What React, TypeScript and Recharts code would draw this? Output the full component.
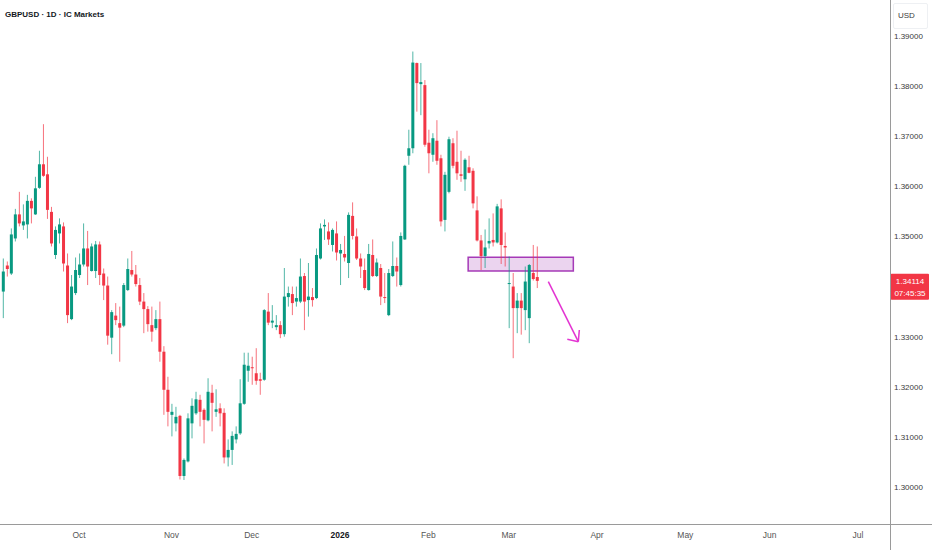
import React from 'react';
import { ComposedChart, Bar, XAxis, YAxis, ReferenceArea, ReferenceLine } from 'recharts';

// Daily GBPUSD candles (bar index = position in arrays)
const opens = [1.3390,1.3442,1.3426,1.3496,1.3544,1.3522,1.3524,1.3571,1.3544,1.3597,1.3644,1.3624,1.3549,1.3463,1.3506,1.3520,1.3442,1.3335,1.3387,1.3423,1.3444,1.3476,1.3431,1.3431,1.3484,1.3426,1.3402,1.3298,1.3342,1.3327,1.3322,1.3393,1.3433,1.3424,1.3403,1.3370,1.3355,1.3323,1.3317,1.3335,1.3270,1.3194,1.3144,1.3127,1.3142,1.3022,1.3051,1.3127,1.3147,1.3174,1.3154,1.3133,1.3188,1.3150,1.3157,1.3148,1.3059,1.3074,1.3095,1.3107,1.3166,1.3232,1.3239,1.3227,1.3215,1.3214,1.3350,1.3328,1.3319,1.3323,1.3305,1.3379,1.3385,1.3370,1.3370,1.3421,1.3373,1.3379,1.3377,1.3456,1.3520,1.3510,1.3483,1.3506,1.3466,1.3465,1.3447,1.3541,1.3500,1.3456,1.3433,1.3393,1.3463,1.3421,1.3437,1.3379,1.3343,1.3421,1.3441,1.3403,1.3494,1.3661,1.3676,1.3846,1.3804,1.3802,1.3687,1.3663,1.3691,1.3656,1.3533,1.3589,1.3686,1.3649,1.3624,1.3614,1.3638,1.3631,1.3552,1.3492,1.3461,1.3486,1.3493,1.3488,1.3556,1.3481,1.3405,1.3400,1.3357,1.3372,1.3353,1.3337,1.3427,1.3419];
const highs = [1.3456,1.3450,1.3516,1.3555,1.3589,1.3564,1.3583,1.3576,1.3619,1.3671,1.3724,1.3659,1.3559,1.3520,1.3536,1.3528,1.3466,1.3423,1.3458,1.3466,1.3526,1.3511,1.3486,1.3491,1.3490,1.3436,1.3420,1.3353,1.3367,1.3360,1.3407,1.3456,1.3471,1.3443,1.3417,1.3387,1.3361,1.3360,1.3353,1.3370,1.3281,1.3220,1.3166,1.3160,1.3144,1.3057,1.3147,1.3177,1.3190,1.3184,1.3157,1.3217,1.3204,1.3195,1.3167,1.3157,1.3095,1.3111,1.3121,1.3215,1.3268,1.3268,1.3260,1.3277,1.3228,1.3355,1.3387,1.3363,1.3343,1.3331,1.3437,1.3400,1.3400,1.3400,1.3456,1.3427,1.3447,1.3397,1.3476,1.3526,1.3534,1.3528,1.3516,1.3530,1.3485,1.3501,1.3548,1.3568,1.3516,1.3466,1.3456,1.3485,1.3494,1.3456,1.3445,1.3427,1.3435,1.3490,1.3458,1.3508,1.3643,1.3713,1.3869,1.3847,1.3846,1.3812,1.3713,1.3706,1.3732,1.3663,1.3629,1.3699,1.3696,1.3711,1.3671,1.3656,1.3661,1.3636,1.3580,1.3503,1.3514,1.3536,1.3546,1.3565,1.3574,1.3508,1.3460,1.3427,1.3387,1.3387,1.3440,1.3445,1.3483,1.3480];
const lows = [1.3337,1.3420,1.3423,1.3490,1.3520,1.3513,1.3496,1.3526,1.3543,1.3595,1.3619,1.3535,1.3480,1.3455,1.3486,1.3430,1.3327,1.3333,1.3383,1.3417,1.3440,1.3403,1.3430,1.3417,1.3403,1.3373,1.3284,1.3265,1.3323,1.3250,1.3319,1.3391,1.3420,1.3400,1.3363,1.3307,1.3310,1.3290,1.3313,1.3250,1.3144,1.3121,1.3101,1.3111,1.3015,1.3014,1.3049,1.3097,1.3144,1.3121,1.3087,1.3131,1.3111,1.3140,1.3121,1.3047,1.3041,1.3044,1.3087,1.3104,1.3164,1.3210,1.3204,1.3204,1.3184,1.3212,1.3323,1.3317,1.3313,1.3297,1.3300,1.3360,1.3343,1.3360,1.3367,1.3313,1.3340,1.3360,1.3375,1.3454,1.3493,1.3483,1.3470,1.3452,1.3403,1.3450,1.3417,1.3494,1.3453,1.3417,1.3393,1.3392,1.3419,1.3419,1.3363,1.3367,1.3341,1.3419,1.3400,1.3400,1.3493,1.3643,1.3666,1.3749,1.3742,1.3679,1.3626,1.3649,1.3643,1.3520,1.3510,1.3586,1.3636,1.3613,1.3609,1.3591,1.3626,1.3556,1.3490,1.3433,1.3437,1.3476,1.3480,1.3486,1.3445,1.3440,1.3317,1.3257,1.3307,1.3304,1.3313,1.3287,1.3412,1.3397];
const closes = [1.3430,1.3435,1.3504,1.3544,1.3526,1.3530,1.3571,1.3556,1.3596,1.3644,1.3621,1.3553,1.3486,1.3513,1.3524,1.3446,1.3343,1.3400,1.3433,1.3444,1.3476,1.3440,1.3480,1.3484,1.3423,1.3402,1.3302,1.3349,1.3333,1.3318,1.3403,1.3435,1.3424,1.3405,1.3370,1.3355,1.3325,1.3310,1.3335,1.3270,1.3194,1.3150,1.3150,1.3140,1.3022,1.3054,1.3137,1.3162,1.3175,1.3150,1.3134,1.3190,1.3168,1.3155,1.3147,1.3059,1.3074,1.3102,1.3106,1.3167,1.3244,1.3242,1.3237,1.3212,1.3212,1.3353,1.3328,1.3332,1.3323,1.3305,1.3380,1.3387,1.3367,1.3377,1.3420,1.3370,1.3380,1.3373,1.3463,1.3516,1.3523,1.3494,1.3513,1.3468,1.3473,1.3458,1.3543,1.3501,1.3456,1.3440,1.3397,1.3465,1.3421,1.3448,1.3380,1.3377,1.3427,1.3441,1.3430,1.3501,1.3641,1.3676,1.3847,1.3806,1.3808,1.3683,1.3666,1.3696,1.3651,1.3530,1.3623,1.3694,1.3641,1.3626,1.3621,1.3653,1.3627,1.3566,1.3492,1.3461,1.3478,1.3491,1.3488,1.3560,1.3483,1.3478,1.3407,1.3357,1.3372,1.3357,1.3410,1.3443,1.3415,1.34114];

// Time axis: bar index of month starts and labels
const monthIdx = [19, 42, 62, 84, 106, 126, 148, 170, 191, 213];
const monthLabels = ['Oct', 'Nov', 'Dec', '2026', 'Feb', 'Mar', 'Apr', 'May', 'Jun', 'Jul'];

// Price axis ticks
const priceTicks = [1.30, 1.31, 1.32, 1.33, 1.35, 1.36, 1.37, 1.38, 1.39];
const countdown = '07:45:35';

// Drawn annotations (bar index, price)
const zoneX = [115.9, 142.1];
const zonePrice = [1.34312, 1.34584];
const arrowStart = { x: 135.87, y: 1.34097 };
const arrowTip = { x: 143.34, y: 1.329 };
const arrowWingA = { x: 140.6, y: 1.32947 };
const arrowWingB = { x: 143.59, y: 1.33133 };

const UP = '#089981';
const DOWN = '#f23645';
const ARROW = '#e335d2';
const FONT = '"Liberation Sans", Arial, sans-serif';

const data = opens.map((o, i) => ({
  i,
  o,
  h: highs[i],
  l: lows[i],
  c: closes[i],
  range: [lows[i], highs[i]],
}));
const lastClose = closes[closes.length - 1];
const yTicks = [...priceTicks, lastClose];

const Candle = (props: any) => {
  const { x, y, width, height, payload } = props;
  if (x == null || y == null || !payload) return null;
  const top = Math.min(y, y + height);
  const h = Math.abs(height);
  const span = payload.h - payload.l;
  const toY = (p: number) => (span === 0 ? top : top + ((payload.h - p) / span) * h);
  const up = payload.c >= payload.o;
  const color = up ? UP : DOWN;
  const bTop = toY(Math.max(payload.o, payload.c));
  const bBot = toY(Math.min(payload.o, payload.c));
  const cx = x + width / 2;
  return (
    <g>
      <line x1={cx} x2={cx} y1={top} y2={top + h} stroke={color} strokeWidth={1} strokeOpacity={0.7} />
      <rect x={x} y={bTop} width={width} height={Math.max(1, bBot - bTop)} fill={color} />
    </g>
  );
};

const PriceTick = (props: any) => {
  const { x, y, payload } = props;
  const v = payload.value;
  if (Math.abs(v - lastClose) < 1e-9) {
    return (
      <g>
        <rect x={x - 3.3} y={y - 7} width={38.3} height={26} fill={DOWN} rx={1} />
        <text x={x + 16} y={y} dy="0.355em" textAnchor="middle" fill="#fff" fontSize={8} fontFamily={FONT}>
          {v.toFixed(5)}
        </text>
        <text x={x + 16} y={y + 12} dy="0.355em" textAnchor="middle" fill="#fff" fontSize={8} fontFamily={FONT}>
          {countdown}
        </text>
      </g>
    );
  }
  return (
    <text x={x} y={y} dy="0.355em" textAnchor="start" fill="#3b3b3b" fontSize={8} fontFamily={FONT}>
      {v.toFixed(5)}
    </text>
  );
};

const TimeTick = (props: any) => {
  const { x, y, payload } = props;
  const k = monthIdx.indexOf(payload.value);
  const label = k >= 0 ? monthLabels[k] : '';
  const bold = label === '2026';
  return (
    <text
      x={x}
      y={y}
      dy="0.71em"
      textAnchor="middle"
      fill={bold ? '#131722' : '#555'}
      fontSize={8.5}
      fontWeight={bold ? 700 : 400}
      fontFamily={FONT}
    >
      {label}
    </text>
  );
};

export default function App() {
  return (
    <div style={{ position: 'absolute', left: 0, top: 0, width: 932, height: 550, background: '#fff', overflow: 'hidden' }}>
      <ComposedChart width={932} height={550} data={data} margin={{ top: 0, right: 0, bottom: 0, left: 0 }}>
        <XAxis
          dataKey="i"
          type="number"
          domain={[-0.7, 220.97]}
          allowDataOverflow
          ticks={monthIdx}
          interval={0}
          tick={<TimeTick />}
          axisLine={false}
          tickLine={false}
          tickSize={0}
          tickMargin={8}
          height={26}
        />
        <YAxis
          orientation="right"
          type="number"
          domain={[1.292616, 1.397184]}
          allowDataOverflow
          ticks={yTicks}
          interval={0}
          tick={<PriceTick />}
          axisLine={false}
          tickLine={false}
          tickSize={0}
          tickMargin={4}
          width={42}
        />
        <Bar dataKey="range" barSize={3} shape={<Candle />} isAnimationActive={false} />
        <ReferenceArea
          x1={zoneX[0]}
          x2={zoneX[1]}
          y1={zonePrice[0]}
          y2={zonePrice[1]}
          fill="#9c27b0"
          fillOpacity={0.2}
          stroke="#9c27b0"
          strokeWidth={1.5}
          strokeOpacity={0.9}
        />
        <ReferenceLine segment={[arrowStart, arrowTip]} stroke={ARROW} strokeWidth={1.5} />
        <ReferenceLine segment={[arrowTip, arrowWingA]} stroke={ARROW} strokeWidth={1.5} />
        <ReferenceLine segment={[arrowTip, arrowWingB]} stroke={ARROW} strokeWidth={1.5} />
      </ComposedChart>
      <div style={{ position: 'absolute', left: 0, top: 524, width: 932, height: 1, background: '#9a9a9a' }} />
      <div style={{ position: 'absolute', left: 890, top: 0, width: 1, height: 550, background: '#9a9a9a' }} />
      <div
        style={{
          position: 'absolute',
          left: 5,
          top: 9,
          fontFamily: FONT,
          fontSize: 8,
          fontWeight: 700,
          color: '#131722',
          lineHeight: '12px',
          whiteSpace: 'nowrap',
        }}
      >
        GBPUSD · 1D · IC Markets
      </div>
      <div
        style={{
          position: 'absolute',
          left: 893,
          top: 3,
          width: 35,
          height: 26,
          border: '1px solid #eef0f3',
          borderRadius: 2,
          boxSizing: 'border-box',
        }}
      />
      <div
        style={{
          position: 'absolute',
          left: 898,
          top: 10,
          fontFamily: FONT,
          fontSize: 8,
          color: '#3b3b3b',
          lineHeight: '12px',
        }}
      >
        USD
      </div>
    </div>
  );
}
